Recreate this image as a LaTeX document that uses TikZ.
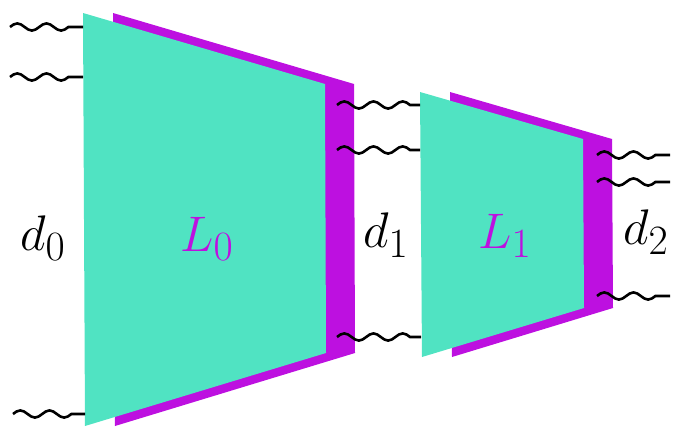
\documentclass[tikz,border=0pt]{standalone}
\definecolor{tealc}{RGB}{80,227,194}
\definecolor{purp}{RGB}{189,16,224}
\newcommand{\biglab}[1]{\scalebox{2.01}{\Huge $#1$}}
\tikzset{
  wavy/.style={line width=2.6pt, draw=black,
    to path={sin ++(7.3,-3.6) cos ++(7.3,3.6) sin ++(7.3,3.6) cos ++(7.3,-3.6)
             sin ++(7.3,-3.6) cos ++(7.3,3.6) sin ++(7.3,3.6) cos ++(7.3,-3.6)
             -- (\tikztotarget)}},
  wavylong/.style={line width=2.6pt, draw=black,
    to path={sin ++(7.3,-3.6) cos ++(7.3,3.6) sin ++(7.3,3.6) cos ++(7.3,-3.6)
             sin ++(7.3,-3.6) cos ++(7.3,3.6) sin ++(7.3,3.6) cos ++(7.3,-3.6)
             sin ++(7.3,-3.6) cos ++(7.3,3.6)
             -- (\tikztotarget)}},
  lab/.style={inner sep=0pt},
  llab/.style={lab, text=purp}
}
\begin{document}
\begin{tikzpicture}[x=1pt,y=-1pt]
\useasboundingbox (0,0) rectangle (678,439);
% L0 block
\fill[purp] (113,13) -- (354,84) -- (355,353) -- (115,426) -- cycle;
\fill[tealc] (83,13) -- (325,84) -- (326,353) -- (85,426) -- cycle;
% L1 block
\fill[purp] (450,92) -- (612,139) -- (613,308) -- (452,357) -- cycle;
\fill[tealc] (420,92) -- (583,139) -- (584,308) -- (422,357) -- cycle;
% wave endpoints
\coordinate (a1s) at (10,27);  \coordinate (a1e) at (83,27);
\coordinate (a2s) at (10,77);  \coordinate (a2e) at (83,77);
\coordinate (a3s) at (13,414); \coordinate (a3e) at (85,414);
\coordinate (b1s) at (337,105); \coordinate (b1e) at (420,105);
\coordinate (b2s) at (337,150); \coordinate (b2e) at (420,150);
\coordinate (b3s) at (337,337); \coordinate (b3e) at (421,337);
\coordinate (c1s) at (597,155); \coordinate (c1e) at (670,155);
\coordinate (c2s) at (597,182); \coordinate (c2e) at (670,182);
\coordinate (c3s) at (597,296); \coordinate (c3e) at (670,296);
\draw[wavy] (a1s) to (a1e);
\draw[wavy] (a2s) to (a2e);
\draw[wavy] (a3s) to (a3e);
\draw[wavylong] (b1s) to (b1e);
\draw[wavylong] (b2s) to (b2e);
\draw[wavylong] (b3s) to (b3e);
\draw[wavy] (c1s) to (c1e);
\draw[wavy] (c2s) to (c2e);
\draw[wavy] (c3s) to (c3e);
% labels
\node[lab] (d0) at (43,238) {\biglab{d_0}};
\node[llab] (L0) at (207,239) {\biglab{L_0}};
\node[lab] (d1) at (386,235) {\biglab{d_1}};
\node[llab] (L1) at (505,236) {\biglab{L_1}};
\node[lab] (d2) at (646,232) {\biglab{d_2}};
\end{tikzpicture}
\end{document}
